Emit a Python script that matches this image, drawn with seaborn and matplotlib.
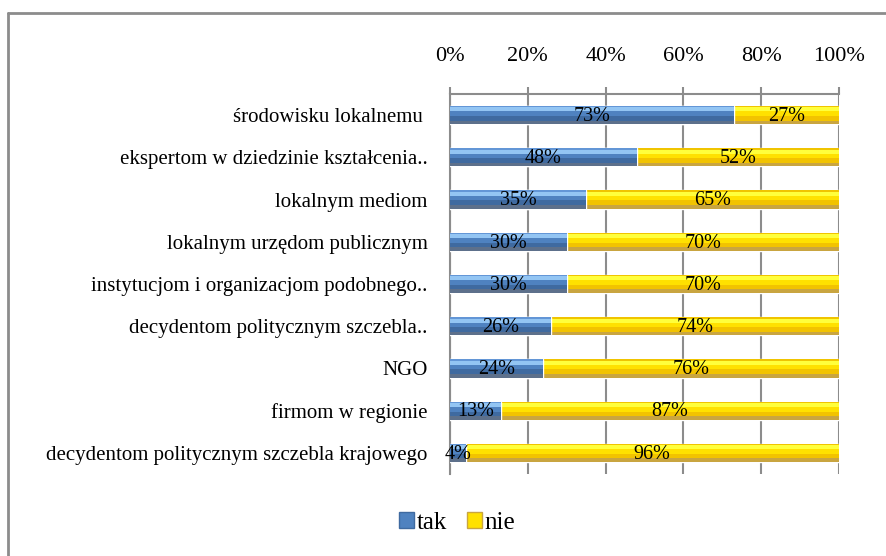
import numpy as np
import pandas as pd
import matplotlib
matplotlib.use('Agg')
import matplotlib.pyplot as plt
import matplotlib.patches as mpatches
from matplotlib.lines import Line2D
import seaborn as sns

#%% data
categories = ['środowisku lokalnemu ',
              'ekspertom w dziedzinie kształcenia..',
              'lokalnym mediom',
              'lokalnym urzędom publicznym',
              'instytucjom i organizacjom podobnego..',
              'decydentom politycznym szczebla..',
              'NGO',
              'firmom w regionie',
              'decydentom politycznym szczebla krajowego']
tak = [73, 48, 35, 30, 30, 26, 24, 13, 4]
nie = [27, 52, 65, 70, 70, 74, 76, 87, 96]
ticks = [0, 20, 40, 60, 80, 100]

df = pd.DataFrame({'kategoria': categories, 'tak': tak, 'nie': nie})
df['razem'] = df['tak'] + df['nie']

# bevel strips (fraction of bar height, colour)
blue_bands = [(0.00, 0.08, '#6396d6'), (0.08, 0.30, '#93c5f3'), (0.30, 0.55, '#4f82c0'),
              (0.55, 0.80, '#3f6aa0'), (0.80, 1.00, '#5d708b')]
yellow_bands = [(0.00, 0.08, '#f0c400'), (0.08, 0.30, '#ffff3c'), (0.30, 0.55, '#ffe100'),
                (0.55, 0.80, '#f2c300'), (0.80, 1.00, '#c9a540')]

#%%
sns.set_style('white')
plt.rcParams['font.family'] = ['Liberation Serif', 'DejaVu Serif']
plt.rcParams['text.color'] = 'black'

fig = plt.figure(figsize=(8.87, 5.56), dpi=100)
ax = fig.add_axes([450/887, 1-474/556, 389/887, 380/556])

sns.barplot(data=df, y='kategoria', x='razem', color='#ffe100', width=0.43,
            orient='h', ax=ax, saturation=1, zorder=3)
n = len(categories)
sns.barplot(data=df, y='kategoria', x='tak', color='#4f82c0', width=0.43,
            orient='h', ax=ax, saturation=1, zorder=4)

# 3D-ish look like in Excel
for i, p in enumerate(ax.patches):
    x, y, w, h = p.get_x(), p.get_y(), p.get_width(), p.get_height()
    bands = yellow_bands if i < n else blue_bands
    for a, b, c in bands:
        ax.add_patch(mpatches.Rectangle((x, y + a*h), w, (b-a)*h, facecolor=c,
                                        edgecolor='none', zorder=p.get_zorder()+0.5))

# labels
for i in range(n):
    ax.text(tak[i]/2, i + 0.03, f'{tak[i]}%', ha='center', va='center', fontsize=14.5,
            color='black', zorder=10)
    ax.text(tak[i] + nie[i]/2, i + 0.03, f'{nie[i]}%', ha='center', va='center',
            fontsize=14.5, color='black', zorder=10)

ax.set_xlim(0, 100)
ax.set_ylim(n-0.5, -0.5)
ax.set_xticks(ticks)
ax.set_xticklabels([f'{t}%' for t in ticks], fontsize=16)
ax.xaxis.tick_top()
ax.tick_params(axis='x', which='major', direction='out', length=5, width=1.5,
               color='#8c8c8c', labelcolor='black', pad=15)
ax.grid(axis='x', color='#8c8c8c', linewidth=1.5, zorder=0)
ax.set_axisbelow(True)

ax.set_yticks(range(n))
ax.set_yticklabels(categories, fontsize=15)
ax.set_yticks(np.arange(-0.5, n, 1), minor=True)
ax.tick_params(axis='y', which='major', length=0, pad=16, labelcolor='black')
ax.tick_params(axis='y', which='minor', direction='out', length=5, width=1.5, color='#8c8c8c')
ax.set_xlabel('')
ax.set_ylabel('')

for s in ['right', 'bottom']:
    ax.spines[s].set_visible(False)
for s in ['left', 'top']:
    ax.spines[s].set_color('#8c8c8c')
    ax.spines[s].set_linewidth(1.5)

# legend
handles = [mpatches.Patch(facecolor='#4f82c0', edgecolor='#3f6aa0', label='tak'),
           mpatches.Patch(facecolor='#ffe100', edgecolor='#c9a540', label='nie')]
leg = fig.legend(handles=handles, loc='center', bbox_to_anchor=(457/887, 1-523/556), ncol=2,
                 frameon=False, fontsize=18, handlelength=0.6, handleheight=0.6,
                 handletextpad=0.1, columnspacing=0.8)
for t in leg.get_texts():
    t.set_color('black')

# chart area frame (cropped on right and bottom)
fig.add_artist(Line2D([8/887, 8/887], [0, 1-13/556], color='#8c8c8c', linewidth=2))
fig.add_artist(Line2D([8/887, 1], [1-13/556, 1-13/556], color='#8c8c8c', linewidth=2))

plt.savefig('out.png', dpi=100)
